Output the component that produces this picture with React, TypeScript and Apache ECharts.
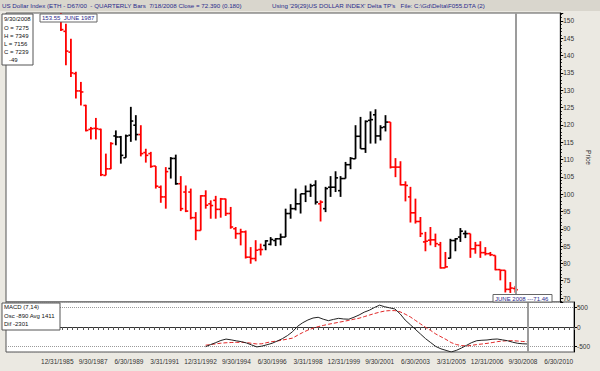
import React, { useEffect, useRef } from "react";
import * as echarts from "echarts";

// ---------- axis categories (quarter ends) ----------
const quarterEnds = ["3/31", "6/30", "9/30", "12/31"];
const axisFirstYear = 1983;
const axisLastYear = 2010;
const xTickLabels = [
  "12/31/1985", "9/30/1987", "6/30/1989", "3/31/1991", "12/31/1992",
  "9/30/1994", "6/30/1996", "3/31/1998", "12/31/1999", "9/30/2001",
  "6/30/2003", "3/31/2005", "12/31/2006", "9/30/2008", "6/30/2010",
];

// ---------- quarterly OHLC bars, first bar = 12/31/1985 ----------
const barStart = "12/31/1985";
const opens = [
  151.0, 147.0, 141.0, 134.8, 129.8, 125.6, 118.7, 119.0, 118.7, 105.4,
  107.3, 116.8, 116.5, 110.5, 117.0, 119.9, 117.2, 112.0, 111.7, 108.1,
  102.0, 99.2, 107.4, 110.3, 103.0, 100.6, 100.6, 93.2, 89.5, 99.5,
  97.2, 98.2, 95.6, 98.6, 94.4, 90.0, 88.6, 89.1, 81.8, 81.4,
  84.0, 85.2, 85.5, 86.6, 87.1, 87.6, 94.4, 95.8, 97.2, 100.1,
  100.8, 102.6, 97.2, 95.8, 102.0, 102.0, 101.0, 104.5, 108.5, 110.2,
  116.7, 113.1, 121.3, 122.9, 116.8, 119.4, 120.8, 107.8, 107.8, 102.7,
  99.2, 94.6, 92.1, 86.2, 86.7, 86.8, 85.4, 78.7, 81.5, 86.6,
  87.6, 88.6, 88.6, 84.2, 85.2, 83.1, 82.8, 82.3, 78.2, 78.0,
  72.5, 72.75,
];
const highs = [
  153.55, 149.2, 144.9, 135.3, 132.4, 125.8, 119.4, 122.0, 118.9, 111.7,
  115.0, 118.4, 116.8, 117.2, 125.2, 122.8, 119.9, 113.1, 112.2, 108.1,
  102.5, 107.8, 110.7, 111.4, 105.2, 102.5, 101.6, 94.8, 99.7, 101.1,
  98.2, 99.5, 98.9, 98.7, 96.3, 90.5, 90.0, 89.5, 84.7, 86.7,
  85.7, 86.7, 87.6, 87.3, 88.6, 95.8, 97.1, 101.6, 100.1, 102.5,
  103.0, 104.0, 98.2, 102.1, 105.2, 106.6, 105.2, 109.3, 110.7, 119.9,
  122.3, 121.3, 123.9, 124.5, 119.9, 122.8, 120.8, 110.4, 109.5, 103.7,
  102.1, 98.7, 93.4, 89.1, 90.5, 88.6, 86.2, 83.3, 87.1, 87.3,
  90.2, 89.5, 88.6, 86.2, 86.4, 84.7, 83.3, 82.3, 78.2, 78.0,
  74.6, 73.49,
];
const lows = [
  147.1, 137.2, 133.8, 127.6, 125.6, 118.1, 115.8, 115.8, 105.2, 105.4,
  107.2, 114.1, 108.8, 110.5, 115.1, 115.5, 110.9, 109.1, 107.6, 101.6,
  97.5, 95.8, 104.5, 102.7, 95.1, 94.8, 92.7, 86.7, 89.5, 95.8,
  92.9, 92.9, 93.2, 93.7, 90.0, 87.1, 85.2, 81.4, 79.9, 80.6,
  82.3, 83.8, 85.2, 85.0, 85.2, 87.6, 92.9, 95.3, 94.4, 97.7,
  99.2, 97.0, 92.1, 94.8, 99.2, 100.6, 99.2, 104.5, 107.2, 110.2,
  113.1, 111.9, 114.6, 114.6, 115.5, 118.1, 107.4, 104.9, 102.5, 97.9,
  91.8, 91.5, 87.6, 83.5, 85.2, 84.7, 78.5, 78.7, 81.4, 83.5,
  86.2, 87.3, 81.6, 82.8, 81.6, 82.3, 82.1, 78.0, 75.1, 71.6,
  71.46, 71.56,
];
const closes = [
  147.5, 141.3, 135.0, 129.8, 129.5, 118.4, 118.9, 118.9, 105.6, 107.3,
  114.6, 116.5, 111.2, 116.8, 121.1, 117.2, 111.7, 111.2, 108.0, 102.3,
  99.2, 106.5, 110.3, 103.0, 95.8, 95.1, 93.2, 89.5, 99.5, 96.8,
  96.7, 95.6, 98.6, 94.4, 90.5, 88.6, 89.1, 81.8, 81.4, 83.8,
  84.0, 86.5, 86.9, 87.1, 87.6, 94.4, 95.8, 97.2, 100.1, 100.8,
  102.4, 97.7, 97.7, 101.6, 102.0, 104.7, 104.5, 108.5, 110.3, 116.7,
  113.1, 121.0, 121.5, 116.8, 119.2, 120.8, 107.8, 107.8, 102.7, 102.5,
  94.6, 92.1, 88.6, 86.4, 86.8, 85.7, 78.7, 79.0, 86.6, 87.1,
  89.3, 88.6, 84.2, 85.2, 83.1, 82.8, 82.5, 78.2, 78.0, 72.5,
  72.88, 72.39,
];
// Delta trend state per bar: U = up (black), D = down (red)
const trend =
  "DDDDDDDDDDD" + "UUUUU" + "DDDDDD" + "UU" + "DDDDDDDDDDDDDDDDD" +
  "UUUUUUUUUUU" + "D" + "UUUUUUUUUUUUU" + "DDDDDDDDDDDD" + "UUUU" + "DDDDDDDDDD";

// ---------- MACD (7,14), first point = 12/31/1992 ----------
const macdStart = "12/31/1992";
const macdLine = [
  -505, -450, -400, -345, -310, -330, -355, -375, -410, -460,
  -510, -490, -455, -418, -360, -300, -220, -120, 20, 110,
  180, 230, 249, 200, 162, 195, 222, 205, 200, 250,
  308, 380, 430, 500, 560, 520, 490, 462, 340, 179,
  60, -60, -180, -300, -400, -500, -560, -600, -640, -600,
  -540, -470, -400, -351, -340, -333, -315, -308, -330, -351,
  -390, -418, -430, -436,
];
const signalLine = [
  -467, -450, -432, -415, -404, -398, -394, -392, -400, -418,
  -435, -430, -400, -375, -360, -335, -310, -285, -210, -140,
  -80, -30, 9, 40, 70, 95, 120, 145, 170, 200,
  225, 265, 305, 345, 380, 410, 420, 420, 390, 330,
  260, 170, 80, -10, -90, -180, -250, -320, -400, -450,
  -475, -487, -470, -450, -436, -420, -400, -376, -360, -352,
  -351, -360, -372, -376,
];

const categories: string[] = [];
for (let y = axisFirstYear; y <= axisLastYear; y++) {
  for (const q of quarterEnds) categories.push(`${q}/${y}`);
}

const FONT = "'Liberation Sans', Arial, sans-serif";
const NAVY = "#2a2a8c";

export default function App() {
  const ref = useRef<HTMLDivElement>(null);
  useEffect(() => {
    document.body.style.margin = "0";
    if (!ref.current) return;
    const chart = echarts.init(ref.current, undefined, { renderer: "svg" });

    const b0 = categories.indexOf(barStart);
    const barData = opens.map((o, i) => [
      b0 + i, o, closes[i], lows[i], highs[i], trend[i] === "U" ? 1 : 0,
    ]);
    const m0 = categories.indexOf(macdStart);
    const macdData = macdLine.map((v, i) => [m0 + i, v]);
    const sigData = signalLine.map((v, i) => [m0 + i, v]);
    const lastIdx = b0 + opens.length - 1;
    const labelSet = new Set(xTickLabels);
    const n = opens.length - 1;
    const fmt = (v: number) => String(Math.round(v * 100));
    const chg = Math.round((closes[n] - closes[n - 1]) * 100);

    const cursor = {
      silent: true,
      symbol: "none",
      label: { show: false },
      lineStyle: { color: "#9c9c9c", width: 2, type: "solid" },
      data: [{ xAxis: lastIdx }],
    };

    const infoLines = [
      categories[lastIdx],
      `O = ${fmt(opens[n])}`,
      `H = ${fmt(highs[n])}`,
      `L = ${fmt(lows[n])}`,
      `C = ${fmt(closes[n])}`,
      `   ${chg}`,
    ];

    const option: any = {
      animation: false,
      backgroundColor: "#ebe9e2",
      textStyle: { fontFamily: FONT },
      grid: [
        { left: 6, right: 26, top: 13, height: 289, show: true, backgroundColor: "#fff", borderColor: "#555", borderWidth: 1 },
        { left: 6, right: 26, top: 302, height: 50, show: true, backgroundColor: "#fff", borderColor: "#555", borderWidth: 1 },
      ],
      xAxis: [
        {
          type: "category", gridIndex: 0, data: categories, boundaryGap: false,
          axisLine: { show: false }, axisTick: { show: false }, axisLabel: { show: false },
          splitLine: { show: false },
        },
        {
          type: "category", gridIndex: 1, data: categories, boundaryGap: false,
          axisLine: { show: true, lineStyle: { color: "#333" } },
          axisTick: { show: true, length: 3, interval: 0, lineStyle: { color: "#555" } },
          axisLabel: {
            show: true, fontSize: 6.5, color: "#333", margin: 6, fontFamily: FONT,
            padding: [0, 10, 0, 0],
            interval: (_i: number, v: string) => labelSet.has(v),
          },
          splitLine: { show: false },
        },
      ],
      yAxis: [
        {
          type: "value", gridIndex: 0, position: "right", min: 68.85, max: 152.3,
          splitNumber: 16, scale: true,
          name: "Price", nameLocation: "middle", nameRotate: -90, nameGap: 19,
          nameTextStyle: { fontSize: 6.5, color: "#333", fontFamily: FONT },
          axisLine: { show: true, lineStyle: { color: "#000" } },
          axisTick: { show: true, length: 3, lineStyle: { color: "#000" } },
          minorTick: { show: true, splitNumber: 5, length: 1.5, lineStyle: { color: "#000" } },
          axisLabel: { fontSize: 6.5, color: "#333", margin: 3, showMinLabel: false, showMaxLabel: false, fontFamily: FONT },
          splitLine: { show: false },
        },
        {
          type: "value", gridIndex: 1, position: "right", min: -641, max: 641,
          splitNumber: 2,
          axisLine: { show: true, lineStyle: { color: "#000" } },
          axisTick: { show: true, length: 3, lineStyle: { color: "#000" } },
          axisLabel: { fontSize: 6.5, color: "#333", margin: 3, showMinLabel: false, showMaxLabel: false, fontFamily: FONT },
          splitLine: { show: true, lineStyle: { color: "#9a9a9a", type: "dotted", width: 1 } },
        },
      ],
      series: [
        {
          type: "custom", name: "bars", xAxisIndex: 0, yAxisIndex: 0, clip: true,
          data: barData,
          encode: { x: 0, y: [1, 2, 3, 4] },
          renderItem: (_p: any, api: any) => {
            const x = api.value(0);
            const o = api.coord([x, api.value(1)]);
            const c = api.coord([x, api.value(2)]);
            const l = api.coord([x, api.value(3)]);
            const h = api.coord([x, api.value(4)]);
            const color = api.value(5) === 1 ? "#000000" : "#ff0000";
            const t = 2.5;
            const st = { stroke: color, lineWidth: 1.6 };
            return {
              type: "group",
              children: [
                { type: "line", shape: { x1: h[0], y1: h[1], x2: l[0], y2: l[1] }, style: { ...st, lineWidth: 1.8 } },
                { type: "line", shape: { x1: o[0] - t, y1: o[1], x2: o[0], y2: o[1] }, style: st },
                { type: "line", shape: { x1: c[0], y1: c[1], x2: c[0] + t, y2: c[1] }, style: st },
              ],
            };
          },
          markLine: cursor,
        },
        {
          type: "line", name: "MACD", xAxisIndex: 1, yAxisIndex: 1, data: macdData,
          symbol: "none", lineStyle: { color: "#222", width: 1 }, z: 3,
          markLine: cursor,
        },
        {
          type: "line", name: "Avg", xAxisIndex: 1, yAxisIndex: 1, data: sigData,
          symbol: "none", lineStyle: { color: "#e02828", width: 1, type: [4, 2] }, z: 2,
        },
      ],
      graphic: [
        { type: "rect", z: 100, shape: { x: 0, y: 0, width: 600, height: 11 }, style: { fill: "#d9d6cd" } },
        { type: "text", z: 101, x: 2, y: 5.5, style: { text: "US Dollar Index (ETH - D67/00  - QUARTERLY Bars  7/18/2008 Close = 72.390 (0.180)", fill: NAVY, fontSize: 6.2, fontFamily: FONT, verticalAlign: "middle" } },
        { type: "text", z: 101, x: 272, y: 5.5, style: { text: "Using '29(29)US DOLLAR INDEX' Delta TP's   File: C:\\Gd\\Delta\\F055.DTA (2)", fill: NAVY, fontSize: 6.2, fontFamily: FONT, verticalAlign: "middle" } },
        // OHLC info box
        { type: "rect", z: 100, shape: { x: 2, y: 14, width: 31, height: 51 }, style: { fill: "#fff", stroke: "#555", lineWidth: 1 } },
        ...infoLines.map((s, i) => ({
          type: "text", z: 101, x: 4, y: 19.3 + i * 8.2,
          style: { text: s, fill: "#111", fontSize: 6, fontFamily: FONT, verticalAlign: "middle" },
        })),
        // high annotation
        { type: "rect", z: 100, shape: { x: 40, y: 14, width: 57, height: 8 }, style: { fill: "#fff", stroke: "#666", lineWidth: 1 } },
        { type: "text", z: 101, x: 42, y: 18.3, style: { text: `${highs[0].toFixed(2)}  JUNE 1987`, fill: NAVY, fontSize: 6, fontFamily: FONT, verticalAlign: "middle" } },
        // low annotation
        { type: "rect", z: 100, shape: { x: 493, y: 294.5, width: 59, height: 7.5 }, style: { fill: "#fff", stroke: "#666", lineWidth: 1 } },
        { type: "text", z: 101, x: 495, y: 298.5, style: { text: `JUNE 2008 ---${lows[n - 1].toFixed(2)}`, fill: NAVY, fontSize: 6, fontFamily: FONT, verticalAlign: "middle" } },
        // MACD info box
        { type: "rect", z: 100, shape: { x: 2, y: 303, width: 58, height: 27 }, style: { fill: "#fff", stroke: "#555", lineWidth: 1 } },
        { type: "text", z: 101, x: 4, y: 307, style: { text: "MACD (7,14)", fill: "#111", fontSize: 6, fontFamily: FONT, verticalAlign: "middle" } },
        { type: "text", z: 101, x: 4, y: 315.5, style: { text: "Osc -890 Avg 1411", fill: "#111", fontSize: 6, fontFamily: FONT, verticalAlign: "middle" } },
        { type: "text", z: 101, x: 4, y: 324, style: { text: "Dif -2301", fill: "#111", fontSize: 6, fontFamily: FONT, verticalAlign: "middle" } },
      ],
    };

    chart.setOption(option);
    return () => chart.dispose();
  }, []);

  return <div ref={ref} style={{ width: 600, height: 371 }} />;
}
